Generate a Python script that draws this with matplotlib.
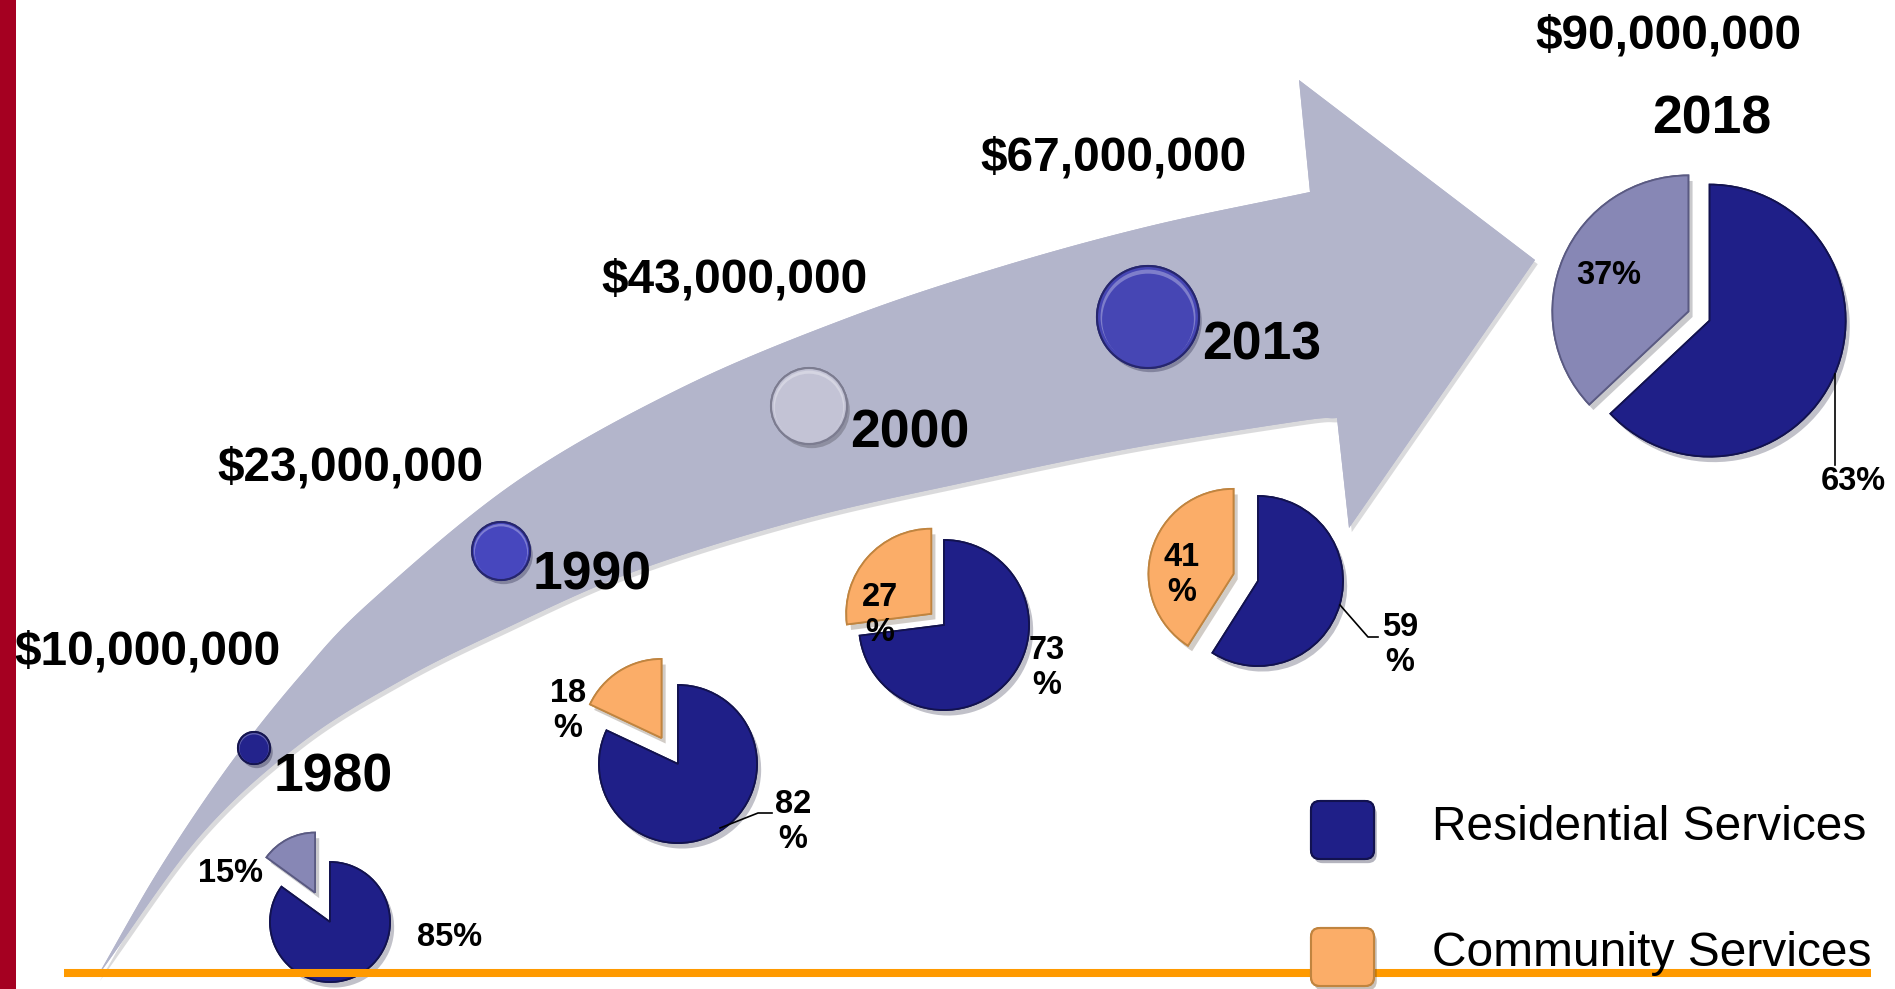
import numpy as np
import matplotlib.pyplot as plt
import matplotlib.patheffects as pe
from matplotlib.colors import to_rgb
from matplotlib.patches import Circle, Polygon, FancyBboxPatch, Rectangle

# data
years = ['1980', '1990', '2000', '2013', '2018']
budgets = ['$10,000,000', '$23,000,000', '$43,000,000', '$67,000,000', '$90,000,000']
residential = [85, 82, 73, 59, 63]
community = [15, 18, 27, 41, 37]
legend_labels = ['Residential Services', 'Community Services']

W, H = 1895, 989
def fy(y):
    # layout is measured from the top of the picture
    return H - y

plt.rcParams['font.family'] = ['Liberation Sans', 'DejaVu Sans']

NAVY, NAVY_EC = '#1F1F88', '#12124F'
ORANGE, ORANGE_EC = '#FBAD68', '#C0843F'
LAVENDER, LAVENDER_EC = '#8787B5', '#5A5A82'
ARROW = '#B3B5CB'

fig = plt.figure(figsize=(W / 100, H / 100), dpi=100)
ax = fig.add_axes([0, 0, 1, 1])

# smooth curve through some guide points (catmull-rom)
def smooth(pts, n=20):
    pts = np.asarray(pts, float)
    p = np.vstack([2 * pts[0] - pts[1], pts, 2 * pts[-1] - pts[-2]])
    out = []
    t = np.linspace(0, 1, n, endpoint=False)[:, None]
    for i in range(1, len(p) - 2):
        p0, p1, p2, p3 = p[i - 1], p[i], p[i + 1], p[i + 2]
        out.append(0.5 * (2 * p1 + (-p0 + p2) * t + (2 * p0 - 5 * p1 + 4 * p2 - p3) * t ** 2
                          + (-p0 + 3 * p1 - 3 * p2 + p3) * t ** 3))
    out.append(pts[-1:])
    return np.vstack(out)

# big curved arrow
upper = [(97, 977), (160, 868), (230, 764), (300, 676), (370, 602), (517, 481),
         (683, 387), (850, 317), (1000, 267), (1150, 226), (1310, 192)]
lower = [(97, 977), (200, 836), (300, 744), (400, 681), (500, 631), (633, 572),
         (800, 520), (967, 482), (1133, 448), (1300, 421), (1337, 418)]
head = [(1299, 80), (1535, 260), (1349, 528)]
outline = np.vstack([smooth(upper), head, smooth(lower)[::-1]])
outline[:, 1] = H - outline[:, 1]
arrow = Polygon(outline, closed=True, facecolor=ARROW, edgecolor='none', zorder=1)
arrow.set_path_effects([pe.withSimplePatchShadow(offset=(2, -3), alpha=0.18), pe.Normal()])
ax.add_patch(arrow)

# red bar at the left and orange baseline
ax.add_patch(Rectangle((0, 0), 16, H, facecolor='#A50021', edgecolor='none', zorder=6))
ax.plot([64, 1871], [fy(973), fy(973)], color='#FF9A00', lw=5.8, zorder=4,
        solid_capstyle='butt')

# bubbles along the arrow, with a light rim at the top for a bit of relief
bubble_xy = [(254, 748), (501, 551), (809, 406), (1148, 317)]
bubble_r = [16, 29, 38, 51]
bubble_col = ['#23238C', '#4747BE', '#C3C3D5', '#4646B4']
bubble_ec = ['#15154F', '#26266E', '#7C7C90', '#26266E']
for (bx, by), r, c, ec in zip(bubble_xy, bubble_r, bubble_col, bubble_ec):
    circ = Circle((bx, fy(by)), r, facecolor=c, edgecolor=ec, lw=1.5, zorder=3)
    circ.set_path_effects([pe.withSimplePatchShadow(offset=(2, -3), alpha=0.3), pe.Normal()])
    ax.add_patch(circ)
    base = np.array(to_rgb(c))
    light = base + (1 - base) * 0.3
    ax.add_patch(Circle((bx, fy(by)), r * 0.93, facecolor=light, edgecolor='none', zorder=3))
    ax.add_patch(Circle((bx, fy(by) - r * 0.05), r * 0.9, facecolor=c, edgecolor='none', zorder=3))

# budget and year labels
budget_pos = [(14, 665), (217, 480), (601, 292), (980, 171), (1535, 48)]
year_pos = [(274, 792), (533, 590), (850, 448), (1202, 360), (1652, 133)]
for txt, (x, y) in zip(budgets, budget_pos):
    ax.text(x, fy(y), txt, fontsize=34.5, fontweight='bold', ha='left', va='baseline', zorder=5)
for txt, (x, y) in zip(years, year_pos):
    ax.text(x, fy(y), txt, fontsize=38.5, fontweight='bold', ha='left', va='baseline', zorder=5)

# pies
pie_center = [(330, 922), (678, 764), (944, 625), (1258, 581), (1699, 316)]
pie_radius = [60, 79, 85, 85, 136]
explode_res = [0, 0, 0, 0, 0.085]
explode_com = [0.55, 0.39, 0.2, 0.3, 0.085]
com_colors = [(LAVENDER, LAVENDER_EC), (ORANGE, ORANGE_EC), (ORANGE, ORANGE_EC),
              (ORANGE, ORANGE_EC), (LAVENDER, LAVENDER_EC)]
wrap = [False, True, True, True, False]
com_lab_xy = [(230, 873), (568, 711), (880, 615), (1182, 575), (1609, 276)]
res_lab_xy = [(450, 938), (793, 822), (1047, 668), (1400, 645), (1853, 481)]
leaders = [None,
           [(720, 828), (758, 813), (772, 813)],
           None,
           [(1340, 605), (1368, 637), (1378, 637)],
           [(1835, 374), (1835, 465)]]

for i in range(len(years)):
    cx, cy = pie_center[i]
    r = pie_radius[i]
    cc, cec = com_colors[i]
    # pie() takes the explode offset in data units, so scale it by the radius
    wedges, _ = ax.pie([residential[i], community[i]], center=(cx, fy(cy)),
                       radius=r, startangle=90, counterclock=False,
                       explode=[explode_res[i] * r, explode_com[i] * r],
                       colors=[NAVY, cc], wedgeprops=dict(linewidth=1.3, zorder=2))
    for w, ec in zip(wedges, [NAVY_EC, cec]):
        w.set_edgecolor(ec)
        w.set_path_effects([pe.withSimplePatchShadow(offset=(3, -4), alpha=0.25), pe.Normal()])
    sep = '\n' if wrap[i] else ''
    ax.text(com_lab_xy[i][0], fy(com_lab_xy[i][1]), f'{community[i]}{sep}%', fontsize=23.5,
            fontweight='bold', ha='center', va='center', zorder=5)
    ax.text(res_lab_xy[i][0], fy(res_lab_xy[i][1]), f'{residential[i]}{sep}%', fontsize=23.5,
            fontweight='bold', ha='center', va='center', zorder=5)
    if leaders[i]:
        lx, ly = zip(*leaders[i])
        ax.plot(lx, [fy(v) for v in ly], color='black', lw=1.2, zorder=5)

# legend
for (y0, y1, ty), c, ec, lab in zip([(801, 859, 840), (928, 986, 966)],
                                    [NAVY, ORANGE], [NAVY_EC, ORANGE_EC], legend_labels):
    box = FancyBboxPatch((1311, fy(y1)), 63, y1 - y0, boxstyle='round,pad=0,rounding_size=9',
                         facecolor=c, edgecolor=ec, lw=1.5, zorder=5)
    box.set_path_effects([pe.withSimplePatchShadow(offset=(2, -3), alpha=0.3), pe.Normal()])
    ax.add_patch(box)
    ax.text(1432, fy(ty), lab, fontsize=34.5, ha='left', va='baseline', zorder=5)

ax.set_xlim(0, W)
ax.set_ylim(0, H)
ax.set_aspect('equal')
ax.axis('off')

fig.savefig('out.png', dpi=100, facecolor='white')
